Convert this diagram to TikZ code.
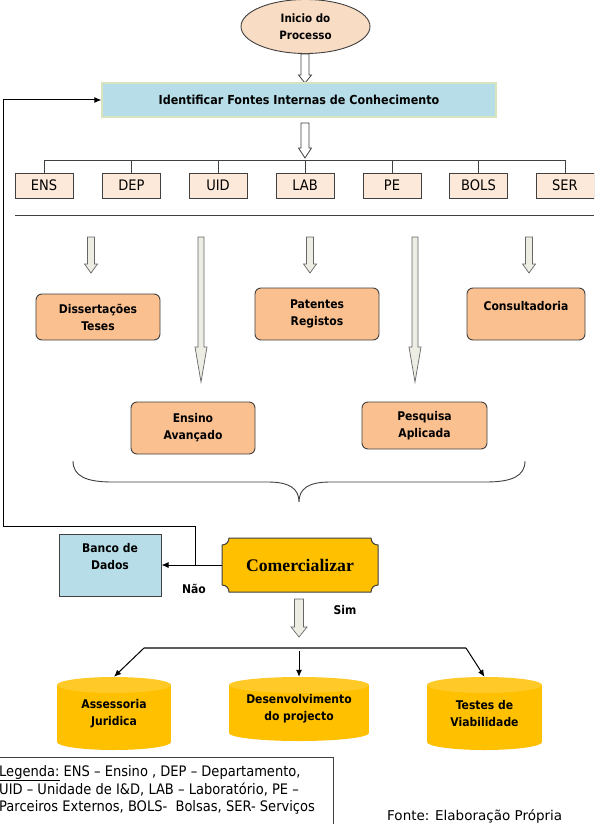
\documentclass[tikz,border=0pt]{standalone}
\usepackage{fontspec}
\setmainfont{DejaVu Sans}[FakeStretch=0.9]
\newfontfamily\serifcom{Liberation Serif}
\newfontfamily\fontefont{DejaVu Sans}
\usetikzlibrary{arrows.meta,shapes.geometric}
\definecolor{peachL}{HTML}{F9DCC4}
\definecolor{peachXL}{HTML}{FDE9D9}
\definecolor{peach}{HTML}{FAC090}
\definecolor{lblue}{HTML}{B7DEE8}
\definecolor{olive}{HTML}{D7E4BD}
\definecolor{gold}{HTML}{FFC000}
\definecolor{goldtop}{HTML}{FFC928}
\definecolor{harrowfill}{HTML}{EDEDE4}
\definecolor{edge}{HTML}{404040}
\tikzset{
  smallbox/.style={draw=edge, fill=peachXL, line width=0.9pt, minimum width=58, minimum height=25, inner sep=0, font=\fontsize{14.5}{16}\selectfont},
  orangebox/.style={draw=edge, fill=peach, rounded corners=6pt, line width=0.9pt, align=center, inner sep=0, font=\bfseries\fontsize{12}{17}\selectfont},
  boldlbl/.style={align=center, inner sep=0, font=\bfseries\fontsize{12}{17}\selectfont},
  harrowsty/.style={draw=edge!80, fill=harrowfill, line width=0.7pt, line join=miter},
  harrowwhite/.style={draw=edge, fill=white, line width=0.8pt, line join=miter},
  conn/.style={draw=edge, line width=0.9pt},
  arr/.style={draw=black, line width=1pt, -{Latex[length=7pt,width=6pt]}},
}
% x, ytop, yhead, ytip, half shaft, half head, style
\newcommand\harrow[7]{\draw[#7] ({#1-#5},#2) -- ({#1+#5},#2) -- ({#1+#5},#3) -- ({#1+#6},#3) -- (#1,#4) -- ({#1-#6},#3) -- ({#1-#5},#3) -- cycle;}
\newcommand\cylshape[4]{%
  \fill[gold] ({#1-#2},{#3+8}) rectangle ({#1+#2},{#4-8});
  \fill[gold] (#1,{#4-8}) ellipse [x radius=#2, y radius=8];
  \fill[goldtop] (#1,{#3+8}) ellipse [x radius=#2, y radius=8];
}
\begin{document}
\begin{tikzpicture}[x=1pt,y=-1pt]
\clip (0,0) rectangle (594,824);
\fill[white] (0,0) rectangle (594,824);

% start
\node[ellipse, draw=edge, fill=peachL, line width=0.9pt, minimum width=129, minimum height=54, inner sep=0, align=center, font=\bfseries\fontsize{11.5}{17}\selectfont] (inicio) at (305.5,26.5) {Inicio do\\Processo};
\harrow{305}{54}{75}{83}{4}{6.5}{harrowwhite}

\node[draw=olive, fill=lblue, line width=1.3pt, minimum width=394, minimum height=34, inner sep=0, font=\bfseries\fontsize{12.4}{15}\selectfont] (fontes) at (299,100) {Identificar Fontes Internas de Conhecimento};
\harrow{305}{123}{148}{158}{4}{6.5}{harrowwhite}

% sources
\node[smallbox] (ens) at (44,185.5) {ENS};
\node[smallbox] (dep) at (131.5,185.5) {DEP};
\node[smallbox] (uid) at (218,185.5) {UID};
\node[smallbox] (lab) at (305,185.5) {LAB};
\node[smallbox] (pe) at (392,185.5) {PE};
\node[smallbox] (bols) at (478.5,185.5) {BOLS};
\node[smallbox] (ser) at (565,185.5) {SER};
\coordinate (busL) at (44,160);
\coordinate (busR) at (565,160);
\draw[conn] (busL) -- (busR);
\foreach \n in {ens,dep,uid,lab,pe,bols,ser}{\draw[conn] (\n.north) -- (\n.north |- busL);}
\coordinate (sepL) at (15,215);
\coordinate (sepR) at (594,215);
\draw[edge, line width=1pt] (sepL) -- (sepR);

% results
\harrow{91}{237}{264}{273}{3.5}{6.5}{harrowsty}
\harrow{310}{237}{264}{273}{3.5}{6.5}{harrowsty}
\harrow{529}{237}{264}{273}{3.5}{6.5}{harrowsty}
\harrow{201}{237}{347}{382}{3}{6}{harrowsty}
\harrow{415}{237}{347}{382}{3}{6}{harrowsty}

\node[orangebox, minimum width=124, minimum height=46] (dis) at (98,317) {Dissertações\\Teses};
\node[orangebox, minimum width=124, minimum height=52] (pat) at (317,314) {Patentes\\Registos};
\node[orangebox, minimum width=118, minimum height=52] (cons) at (526,314) {Consultadoria\\~};
\node[orangebox, minimum width=124, minimum height=52] (ens2) at (193,428) {Ensino\\Avançado};
\node[orangebox, minimum width=125, minimum height=47] (pesq) at (424.5,425.5) {Pesquisa\\Aplicada};

% brace
\draw[edge, line width=0.9pt] (73,461) .. controls (73,476) and (86,482) .. (112,482) -- (268,482) .. controls (290,482) and (299,489) .. (299,502) .. controls (299,489) and (308,482) .. (330,482) -- (486,482) .. controls (512,482) and (525,476) .. (525,461);

% commercialise
\draw[fill=gold, draw=edge, line width=1pt] (229,538) -- (371,538) .. controls (371,542) and (374,545) .. (378,545) -- (378,585) .. controls (374,585) and (371,588) .. (371,592) -- (229,592) .. controls (229,588) and (226,585) .. (222,585) -- (222,545) .. controls (226,545) and (229,542) .. (229,538) -- cycle;
\node[minimum width=156, minimum height=54, inner sep=0, font=\serifcom\bfseries\fontsize{17.7}{20}\selectfont] (com) at (300,565) {Comercializar};

\node[draw=edge, fill=lblue, line width=1pt, minimum width=102, minimum height=62, inner sep=0, align=center, font=\bfseries\fontsize{12}{17}\selectfont] (banco) at (110,565) {Banco de\\Dados\\~};
\draw[arr] (com.west) -- (banco.east);
\coordinate (j) at (195,565);
\coordinate (lp) at (3,526);
\draw[arr] (j) |- (lp) |- (fontes.west);
\node[boldlbl] (nao) at (194,589) {Não};
\node[boldlbl] (sim) at (345,610) {Sim};

\harrow{299}{599}{627}{637}{4.5}{8}{harrowsty}

% cylinders
\cylshape{114}{57}{677}{750}
\cylshape{299}{70}{677}{741}
\cylshape{484.5}{57.5}{677}{750}
\node[boldlbl, minimum width=114, minimum height=73] (c1) at (114,713.5) {Assessoria\\Juridica};
\node[boldlbl, minimum width=140, minimum height=64] (c2) at (299,709) {Desenvolvimento\\do projecto};
\node[boldlbl, minimum width=115, minimum height=73] (c3) at (484.5,713.5) {Testes de\\Viabilidade};
\coordinate (b1) at (144,648);
\coordinate (b2) at (299,651);
\coordinate (b3) at (466,648);
\draw[edge!85, line width=1.3pt] (b1) -- (b3);
\draw[arr] (b1) -- (c1.north);
\draw[arr] (b2) -- (c2.north);
\draw[arr] (b3) -- (c3.north);

% legend
\draw[edge, line width=1pt] (-1,757) rectangle (333,830);
\node[anchor=north west, align=left, inner sep=0, font=\fontsize{14.5}{17.8}\selectfont] (leg) at (-1,765) {\underline{Legenda:} ENS – Ensino , DEP – Departamento,\\UID – Unidade de I\&D, LAB – Laboratório, PE –\\Parceiros Externos, BOLS-\ \ Bolsas, SER- Serviços};
\node[anchor=base west, inner sep=0, font=\fontefont\fontsize{13.5}{16}\selectfont] (fonte) at (387,820) {Fonte: Elaboração Própria};
\end{tikzpicture}
\end{document}
